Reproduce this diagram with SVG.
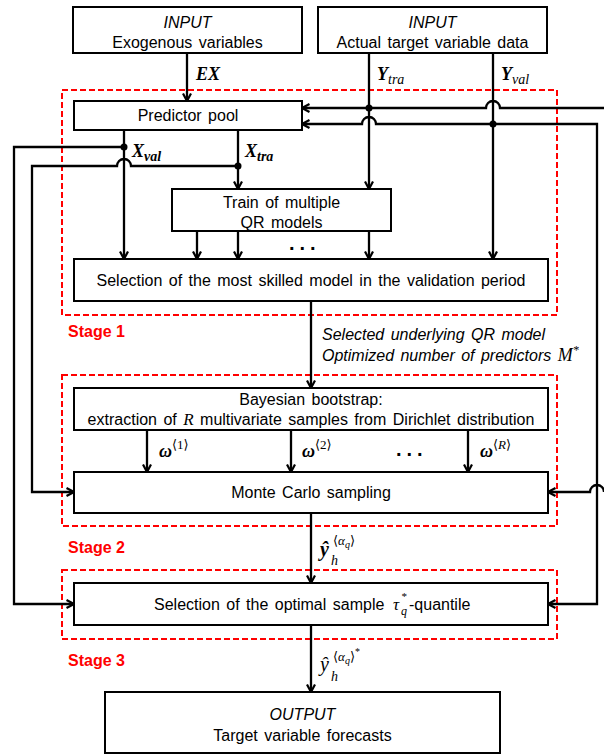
<svg xmlns="http://www.w3.org/2000/svg" width="604" height="755" viewBox="0 0 604 755">
<style>
.box{fill:#fff;stroke:#000;stroke-width:2}
.stage{fill:none;stroke:#f00;stroke-width:2;stroke-dasharray:6 3}
.ln{fill:none;stroke:#000;stroke-width:2.3}
.arr{marker-end:url(#ah)}
.t{font-family:"Liberation Sans",Arial,sans-serif;font-size:16px;fill:#000;word-spacing:2px}
.c{text-anchor:middle}
.i{font-style:italic}
.m{font-family:"Liberation Serif","DejaVu Serif",serif;font-style:italic;fill:#000}
.mb{font-weight:bold}
.st{font-family:"Liberation Sans",Arial,sans-serif;font-size:16px;font-weight:bold;fill:#f00}
.dot{fill:#000}
.dots{font-family:"Liberation Sans",Arial,sans-serif;font-size:20px;font-weight:bold;letter-spacing:5px;fill:#000}
</style>
<defs>
<marker id="ah" viewBox="0 0 10 10" refX="8.5" refY="5" markerWidth="10" markerHeight="10" markerUnits="userSpaceOnUse" orient="auto">
<path d="M1,1 L8.5,5 L1,9" fill="none" stroke="#000" stroke-width="2.2"/>
</marker>
</defs>

<g id="stages">
<rect class="stage" x="62" y="90" width="495" height="225"/>
<rect class="stage" x="62" y="375" width="495" height="151"/>
<rect class="stage" x="62" y="570" width="495" height="69"/>
<text class="st" x="68" y="337">Stage 1</text>
<text class="st" x="68" y="553">Stage 2</text>
<text class="st" x="68" y="666">Stage 3</text>
</g>

<g id="connectors">
<path class="ln arr" d="M187,53 V101"/>
<path class="ln arr" d="M369,53 V189"/>
<path class="ln arr" d="M493,53 V259"/>
<path class="ln arr" d="M604,108 H500 A7,7 0 0 0 486,108 H302"/>
<path class="ln arr" d="M493,124 H376 A7,7 0 0 0 362,124 H302"/>
<path class="ln arr" d="M493,124 H597 V604 H548"/>
<path class="ln arr" d="M604,492 A7,7 0 0 0 590,492 H548"/>
<circle class="dot" cx="369" cy="108" r="3.5"/>
<circle class="dot" cx="493" cy="124" r="3.5"/>
<path class="ln arr" d="M124,130 V259"/>
<path class="ln arr" d="M238,130 V189"/>
<path class="ln arr" d="M124,147 H14 V604 H74"/>
<path class="ln arr" d="M238,166 H131 A7,7 0 0 0 117,166 H32 V492 H74"/>
<circle class="dot" cx="124" cy="147" r="3.5"/>
<circle class="dot" cx="238" cy="166" r="3.5"/>
<path class="ln arr" d="M197,231 V259"/>
<path class="ln arr" d="M238,231 V259"/>
<path class="ln arr" d="M369,231 V259"/>
<path class="ln arr" d="M311,301 V388"/>
<path class="ln arr" d="M147,430 V472"/>
<path class="ln arr" d="M291,430 V472"/>
<path class="ln arr" d="M468,430 V472"/>
<path class="ln arr" d="M311,513 V583"/>
<path class="ln arr" d="M311,625 V692"/>
<text class="dots" x="289" y="250">...</text>
<text class="dots" x="396" y="456">...</text>
<text x="196" y="80" class="m mb" font-size="18">EX</text>
<text x="377" y="80" class="m" font-size="18"><tspan class="mb">Y</tspan><tspan font-size="14" dy="4">tra</tspan></text>
<text x="501" y="80" class="m" font-size="18"><tspan class="mb">Y</tspan><tspan font-size="14" dy="4">val</tspan></text>
<text x="132" y="157" class="m mb" font-size="18">X<tspan font-size="14" dy="4">val</tspan></text>
<text x="245" y="157" class="m mb" font-size="18">X<tspan font-size="14" dy="4">tra</tspan></text>
<text x="322" y="340" class="t i">Selected underlying QR model</text>
<text x="322" y="361" class="t i">Optimized number of predictors <tspan class="m" font-size="18">M</tspan><tspan class="m" font-size="12" dy="-7">*</tspan></text>
<text x="159" y="457" class="m" font-size="18"><tspan class="mb">ω</tspan><tspan font-size="13" dy="-8" font-style="normal">⟨1⟩</tspan></text>
<text x="302" y="457" class="m" font-size="18"><tspan class="mb">ω</tspan><tspan font-size="13" dy="-8" font-style="normal">⟨2⟩</tspan></text>
<text x="480" y="457" class="m" font-size="18"><tspan class="mb">ω</tspan><tspan font-size="13" dy="-8" font-style="normal">⟨</tspan><tspan font-size="13">R</tspan><tspan font-size="13" font-style="normal">⟩</tspan></text>
<text class="m" font-size="20"><tspan x="320" y="556" class="mb">ŷ</tspan><tspan x="331" y="565" font-size="14">h</tspan><tspan x="333" y="545" font-size="13" font-style="normal">⟨</tspan><tspan font-size="13">α</tspan><tspan font-size="10" dy="3">q</tspan><tspan font-size="13" dy="-3" font-style="normal">⟩</tspan></text>
<text class="m" font-size="20"><tspan x="320" y="671">ŷ</tspan><tspan x="331" y="681" font-size="14">h</tspan><tspan x="333" y="661" font-size="13" font-style="normal">⟨</tspan><tspan font-size="13">α</tspan><tspan font-size="10" dy="3">q</tspan><tspan font-size="13" dy="-3" font-style="normal">⟩</tspan><tspan font-size="10" dy="-6" font-style="normal">*</tspan></text>
</g>

<g id="input-exo">
<rect class="box" x="73" y="7" width="229" height="46"/>
<text class="t c i" x="187.5" y="28">INPUT</text>
<text class="t c" x="187.5" y="48">Exogenous variables</text>
</g>
<g id="input-target">
<rect class="box" x="318" y="7" width="229" height="46"/>
<text class="t c i" x="432.5" y="28">INPUT</text>
<text class="t c" x="432.5" y="48">Actual target variable data</text>
</g>
<g id="predictor-pool">
<rect class="box" x="74" y="101" width="228" height="29"/>
<text class="t c" x="188" y="121">Predictor pool</text>
</g>
<g id="train-qr">
<rect class="box" x="172" y="189" width="219" height="42"/>
<text class="t c" x="281.5" y="208">Train of multiple</text>
<text class="t c" x="281.5" y="228">QR models</text>
</g>
<g id="selection-model">
<rect class="box" x="74" y="259" width="474" height="42"/>
<text class="t c" x="311" y="286">Selection of the most skilled model in the validation period</text>
</g>
<g id="bayesian-bootstrap">
<rect class="box" x="74" y="388" width="474" height="42"/>
<text class="t c" x="311" y="405">Bayesian bootstrap:</text>
<text class="t c" x="311" y="425">extraction of <tspan class="m" font-size="17">R</tspan> multivariate samples from Dirichlet distribution</text>
</g>
<g id="monte-carlo">
<rect class="box" x="74" y="472" width="474" height="41"/>
<text class="t c" x="311" y="498">Monte Carlo sampling</text>
</g>
<g id="selection-quantile">
<rect class="box" x="74" y="583" width="474" height="42"/>
<text class="t" y="610"><tspan x="154">Selection of the optimal sample</tspan><tspan x="393" class="m" font-size="17">τ</tspan><tspan x="401" dy="5" class="m" font-size="12">q</tspan><tspan x="409" dy="-5">-quantile</tspan></text>
<text x="401" y="600" class="m" font-size="11" font-style="normal">*</text>
</g>
<g id="output">
<rect class="box" x="105" y="692" width="395" height="61"/>
<text class="t c i" x="302.5" y="720">OUTPUT</text>
<text class="t c" x="302.5" y="741">Target variable forecasts</text>
</g>
</svg>
